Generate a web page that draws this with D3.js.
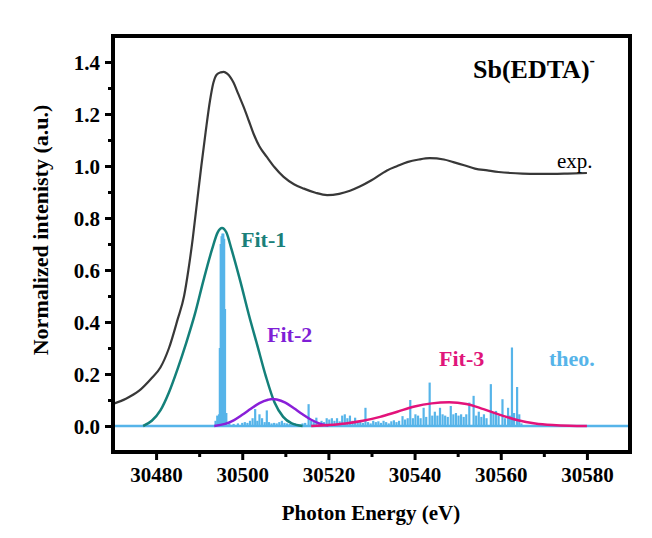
<!DOCTYPE html>
<html><head><meta charset="utf-8">
<script src="https://cdn.jsdelivr.net/npm/d3@7"></script>
<style>html,body{margin:0;padding:0;background:#fff;}</style>
</head><body>
<script>
// ---- data ----
const expE = [30470,30473,30476,30479,30481,30483,30485,30486.5,30487.5,30488.5,30489.5,30490.5,30491.5,30492.5,30493.3,30494.1,30495,30495.7,30496.5,30497.3,30498,30499,30500.3,30501.5,30502.6,30504,30505.7,30507.5,30509.6,30512,30514.3,30517,30519.7,30522.5,30525,30527.4,30530,30533.6,30536,30538.3,30541,30543.5,30546.8,30549,30551.5,30554,30556.9,30559.5,30562.3,30565,30568.5,30572,30575.5,30580];
const expI = [0.085,0.105,0.135,0.185,0.225,0.30,0.41,0.50,0.60,0.72,0.86,1.0,1.13,1.25,1.32,1.352,1.36,1.362,1.355,1.34,1.32,1.28,1.228,1.175,1.125,1.075,1.035,0.995,0.958,0.93,0.913,0.897,0.888,0.893,0.905,0.922,0.945,0.983,1.0,1.015,1.025,1.03,1.025,1.015,1.003,0.99,0.983,0.977,0.973,0.971,0.970,0.970,0.971,0.973];

const fit1E = [30477,30479,30481,30483,30485,30487,30489,30491,30493,30494.3,30495.3,30496.3,30497.5,30499.5,30501.5,30503.5,30505.5,30507.5,30509.5,30511.5,30514];
const fit1I = [0.0,0.02,0.06,0.13,0.22,0.32,0.43,0.56,0.68,0.745,0.762,0.745,0.68,0.56,0.43,0.31,0.19,0.09,0.035,0.01,0.0];

const fit2E = [30493.5,30496,30498,30500,30502,30504,30506,30507,30508,30510,30512,30514,30516,30518,30520];
const fit2I = [0.0,0.008,0.022,0.043,0.066,0.088,0.101,0.104,0.102,0.090,0.068,0.045,0.024,0.009,0.002];

const fit3E = [30516,30520,30524,30528,30532,30536,30540,30544,30548,30552,30556,30560,30564,30568,30572,30576,30580];
const fit3I = [0.0,0.004,0.010,0.020,0.035,0.055,0.075,0.087,0.091,0.085,0.065,0.042,0.022,0.010,0.004,0.001,0.0];

const theoE = [30493.8,30494.2,30494.6,30494.8,30495.0,30495.2,30495.4,30495.6,30495.8,30496.0,30496.3,30497.0,30498,30499,30500,30500.6,30501.2,30501.8,30502.4,30503.0,30503.5,30504.0,30504.6,30505.2,30505.7,30506.2,30506.8,30507.4,30508,30508.6,30509.2,30509.8,30510.4,30511,30511.6,30512.2,30512.8,30513.4,30514,30514.6,30515.4,30516.0,30516.6,30517.2,30517.8,30518.4,30519,30519.6,30520.2,30520.8,30521.4,30522,30522.6,30523.2,30523.8,30524.4,30525,30525.6,30526.2,30526.8,30527.4,30528.0,30528.6,30529.2,30529.8,30530.4,30531,30531.6,30532.2,30532.8,30533.4,30534,30534.6,30535.2,30535.8,30536.4,30537.2,30537.8,30538.4,30539.0,30539.6,30540.2,30540.8,30541.4,30542.1,30542.7,30543.5,30544.1,30544.7,30545.3,30545.9,30546.5,30547.1,30547.7,30548.4,30549.0,30549.6,30550.2,30550.8,30551.4,30552.0,30552.7,30553.7,30554.3,30554.9,30555.5,30556.1,30556.7,30557.7,30558.3,30558.9,30559.5,30560.4,30561.0,30561.7,30562.1,30562.6,30563.1,30563.8,30564.3,30564.8];
const theoI = [0.02,0.04,0.045,0.30,0.70,0.73,0.74,0.74,0.72,0.45,0.05,0.01,0.008,0.01,0.012,0.015,0.012,0.02,0.03,0.065,0.02,0.045,0.03,0.015,0.06,0.015,0.01,0.012,0.01,0.015,0.02,0.012,0.01,0.008,0.006,0.01,0.008,0.006,0.01,0.012,0.084,0.02,0.015,0.032,0.012,0.02,0.015,0.03,0.025,0.03,0.02,0.03,0.018,0.04,0.045,0.03,0.04,0.02,0.032,0.015,0.02,0.012,0.07,0.015,0.01,0.02,0.015,0.018,0.012,0.02,0.015,0.01,0.018,0.022,0.015,0.02,0.038,0.025,0.03,0.100,0.03,0.045,0.04,0.03,0.07,0.035,0.167,0.04,0.055,0.04,0.07,0.045,0.04,0.035,0.077,0.045,0.05,0.04,0.045,0.035,0.045,0.09,0.116,0.04,0.055,0.035,0.045,0.03,0.161,0.05,0.058,0.04,0.103,0.03,0.07,0.04,0.302,0.05,0.15,0.045,0.01];

const xMajor = [30480,30500,30520,30540,30560,30580];
const xMinor = [30490,30510,30530,30550,30570];
const yMajor = [0.0,0.2,0.4,0.6,0.8,1.0,1.2,1.4];
const yMinor = [0.1,0.3,0.5,0.7,0.9,1.1,1.3];

// ---- layout ----
const W = 652, H = 538;
const L = 113, R = 630, T = 36, B = 452;
const svg = d3.select("body").append("svg").attr("width", W).attr("height", H)
  .style("font-family", "'Liberation Serif','Times New Roman',serif");
svg.append("rect").attr("width", W).attr("height", H).attr("fill", "#fff");

const x = d3.scaleLinear().domain([30470, 30590]).range([L, R]);
const y = d3.scaleLinear().domain([-0.1, 1.5]).range([B, T]);

svg.append("clipPath").attr("id", "clip").append("rect")
  .attr("x", L).attr("y", T).attr("width", R - L).attr("height", B - T);
const g = svg.append("g").attr("clip-path", "url(#clip)");

const zip = (a, b) => a.map((v, i) => [v, b[i]]);
const line = d3.line().x(d => x(d[0])).y(d => y(d[1])).curve(d3.curveMonotoneX);

// theo baseline and sticks
const theoColor = "#56b4e9";
g.append("line").attr("x1", x(30470)).attr("x2", x(30590))
  .attr("y1", y(0)).attr("y2", y(0)).attr("stroke", theoColor).attr("stroke-width", 2.5);
g.selectAll("line.stick").data(zip(theoE, theoI)).join("line").attr("class", "stick")
  .attr("x1", d => x(d[0])).attr("x2", d => x(d[0]))
  .attr("y1", y(0)).attr("y2", d => y(d[1]))
  .attr("stroke", theoColor).attr("stroke-width", 2.2);

// fits
g.append("path").datum(zip(fit1E, fit1I)).attr("d", line)
  .attr("fill", "none").attr("stroke", "#14807a").attr("stroke-width", 2.5);
g.append("path").datum(zip(fit2E, fit2I)).attr("d", line)
  .attr("fill", "none").attr("stroke", "#8a1fd8").attr("stroke-width", 2.5);
g.append("path").datum(zip(fit3E, fit3I)).attr("d", line)
  .attr("fill", "none").attr("stroke", "#e3137a").attr("stroke-width", 2.5);

// exp
g.append("path").datum(zip(expE, expI)).attr("d", line)
  .attr("fill", "none").attr("stroke", "#383838").attr("stroke-width", 2.2);

// axes
const ax = svg.append("g").attr("transform", `translate(0,${B})`)
  .call(d3.axisBottom(x).tickValues(xMajor).tickSize(8).tickSizeOuter(0).tickFormat(d3.format("d")));
const axm = svg.append("g").attr("transform", `translate(0,${B})`)
  .call(d3.axisBottom(x).tickValues(xMinor).tickSize(5).tickSizeOuter(0).tickFormat(""));
const ay = svg.append("g").attr("transform", `translate(${L},0)`)
  .call(d3.axisLeft(y).tickValues(yMajor).tickSize(8).tickSizeOuter(0).tickFormat(d3.format(".1f")));
const aym = svg.append("g").attr("transform", `translate(${L},0)`)
  .call(d3.axisLeft(y).tickValues(yMinor).tickSize(5).tickSizeOuter(0).tickFormat(""));
[ax, axm, ay, aym].forEach(a => {
  a.select(".domain").remove();
  a.selectAll(".tick line").attr("stroke", "#000").attr("stroke-width", 3);
  a.selectAll("text").attr("fill", "#000").attr("font-size", 21).attr("font-weight", "bold")
    .attr("font-family", "'Liberation Serif','Times New Roman',serif");
});
ax.selectAll("text").attr("dy", "1.05em").attr("y", 8);
ay.selectAll("text").attr("x", -13).attr("dy", "0.34em");

// frame
svg.append("rect").attr("x", L).attr("y", T).attr("width", R - L).attr("height", B - T)
  .attr("fill", "none").attr("stroke", "#000").attr("stroke-width", 4);

// axis titles
svg.append("text").attr("x", 371).attr("y", 520).attr("text-anchor", "middle")
  .attr("font-size", 21).attr("font-weight", "bold").text("Photon Energy (eV)");
svg.append("text").attr("transform", "translate(48,230) rotate(-90)").attr("text-anchor", "middle")
  .attr("font-size", 22).attr("font-weight", "bold").text("Normalized intenisty (a.u.)");

// annotations
const t = svg.append("text").attr("x", 473).attr("y", 78).attr("font-size", 26).attr("font-weight", "bold");
t.append("tspan").text("Sb(EDTA)");
t.append("tspan").attr("font-size", 16).attr("dy", -12).text("-");
svg.append("text").attr("x", 557).attr("y", 168).attr("font-size", 21).text("exp.");
svg.append("text").attr("x", 241).attr("y", 247).attr("font-size", 22).attr("font-weight", "bold")
  .attr("fill", "#1a807a").text("Fit-1");
svg.append("text").attr("x", 267).attr("y", 342).attr("font-size", 22).attr("font-weight", "bold")
  .attr("fill", "#7f1fd6").text("Fit-2");
svg.append("text").attr("x", 439).attr("y", 366).attr("font-size", 22).attr("font-weight", "bold")
  .attr("fill", "#e0157a").text("Fit-3");
svg.append("text").attr("x", 549).attr("y", 366).attr("font-size", 22).attr("font-weight", "bold")
  .attr("fill", theoColor).text("theo.");
</script>
</body></html>
